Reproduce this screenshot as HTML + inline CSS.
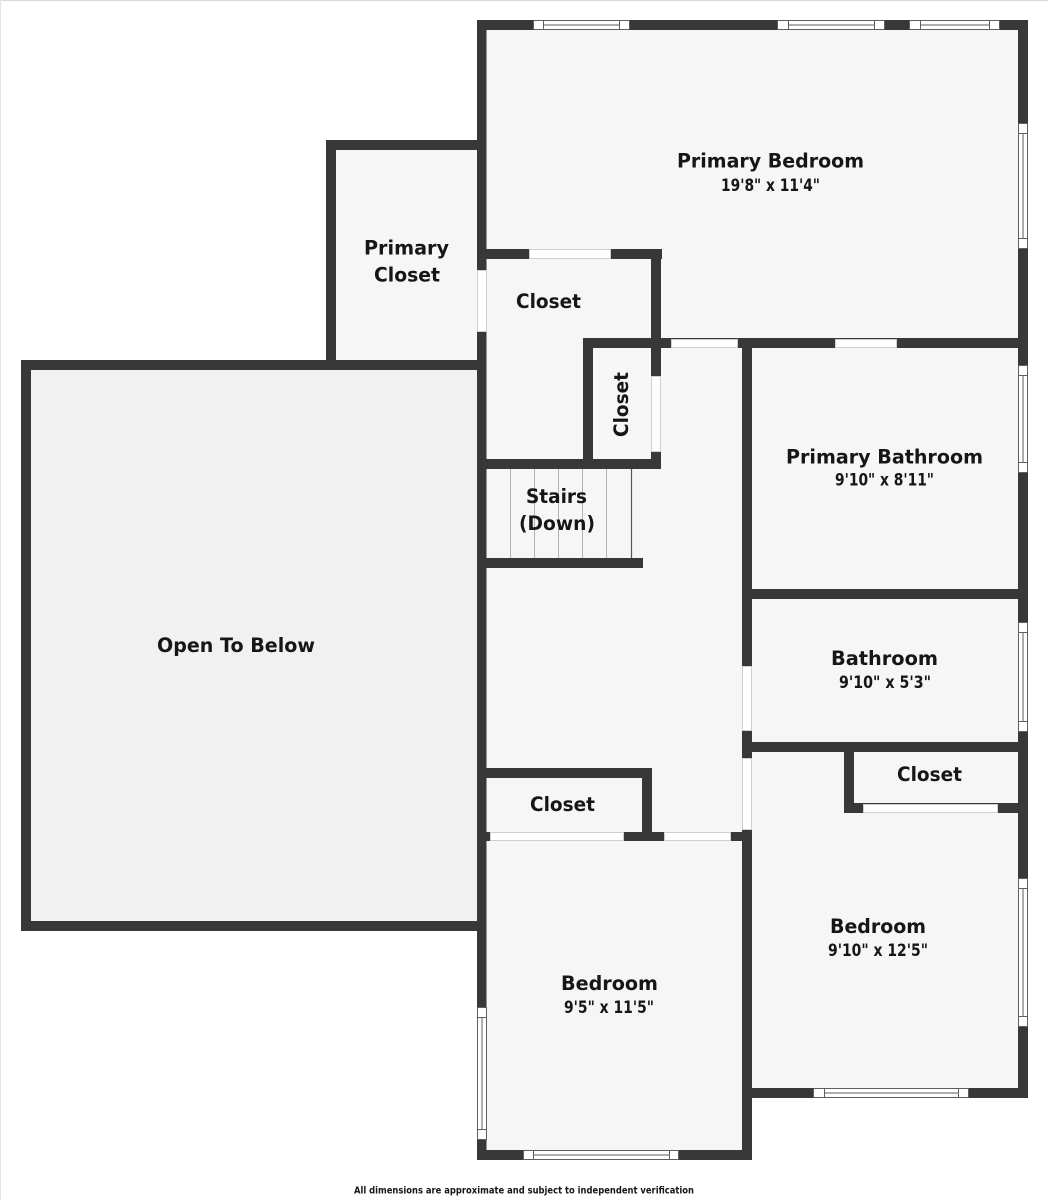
<!DOCTYPE html>
<html><head><meta charset="utf-8"><style>
html,body{margin:0;padding:0;background:#fff}
svg{display:block}
text{font-family:"DejaVu Sans","Liberation Sans",sans-serif;font-weight:bold;fill:#161616}
.n{font-size:19.5px}.d{font-size:16.5px}
</style></head><body>
<svg width="1048" height="1200" viewBox="0 0 1048 1200" xmlns="http://www.w3.org/2000/svg">
<rect width="1048" height="1200" fill="#fff"/>
<rect x="0" y="0" width="1048" height="1" fill="#d8d8d8"/>
<rect x="0" y="0" width="1" height="1200" fill="#e4e4e4"/>
<!-- floors -->
<rect x="26" y="365" width="455" height="561" fill="#f1f1f1"/>
<rect x="331" y="145" width="150" height="220" fill="#f6f6f6"/>
<polygon points="482,25 1023,25 1023,1093 747,1093 747,1155 482,1155" fill="#f6f6f6"/>
<!-- stair lines -->
<g stroke="#b0b0b0" stroke-width="1"><line x1="510.5" y1="469" x2="510.5" y2="558"/><line x1="534.5" y1="469" x2="534.5" y2="558"/><line x1="558.5" y1="469" x2="558.5" y2="558"/><line x1="582.5" y1="469" x2="582.5" y2="558"/><line x1="606.5" y1="469" x2="606.5" y2="558"/></g>
<line x1="631.5" y1="469" x2="631.5" y2="558" stroke="#555" stroke-width="1.2"/>
<!-- walls -->
<g fill="#383838">
<rect x="477" y="20" width="551" height="10"/>
<rect x="1018" y="20" width="10" height="1078"/>
<rect x="477" y="20" width="9.5" height="1140"/>
<rect x="477" y="1150" width="275" height="10"/>
<rect x="742" y="338" width="10" height="822"/>
<rect x="752" y="1088" width="276" height="10"/>
<rect x="326" y="140" width="10" height="230"/>
<rect x="326" y="140" width="151" height="10"/>
<rect x="21" y="360" width="456" height="10"/>
<rect x="21" y="360" width="10" height="571"/>
<rect x="21" y="921" width="456" height="10"/>
<rect x="477" y="249" width="185" height="10"/>
<rect x="651" y="249" width="10" height="220"/>
<rect x="583" y="338" width="445" height="10"/>
<rect x="583" y="338" width="10" height="130"/>
<rect x="477" y="459" width="184" height="10"/>
<rect x="477" y="558" width="166" height="10"/>
<rect x="477" y="768" width="175" height="10"/>
<rect x="642" y="768" width="10" height="70"/>
<rect x="477" y="832" width="275" height="9"/>
<rect x="742" y="589" width="286" height="10"/>
<rect x="742" y="742" width="286" height="10"/>
<rect x="844" y="742" width="10" height="71"/>
<rect x="844" y="803" width="184" height="10"/>
</g>
<!-- plain openings -->
<g fill="#fff" stroke="#cfcfcf" stroke-width="1">
<rect x="529.5" y="249.5" width="81" height="9"/>
<rect x="477.5" y="270.5" width="9" height="61"/>
<rect x="651.5" y="376.5" width="9" height="75"/>
<rect x="671.5" y="339.5" width="66" height="8"/>
<rect x="835.5" y="339.5" width="61" height="8"/>
<rect x="742.5" y="666.5" width="9" height="64"/>
<rect x="742.5" y="758.5" width="9" height="71"/>
<rect x="490.5" y="832.5" width="133" height="8"/>
<rect x="664.5" y="832.5" width="66" height="8"/>
<rect x="863.5" y="804.5" width="134" height="8"/>
</g>
<!-- windows -->
<g fill="#fff" stroke="#5e5e5e" stroke-width="1">
<rect x="533.5" y="20.5" width="96" height="9"/><line x1="543" y1="25" x2="619" y2="25"/><line x1="543.5" y1="20" x2="543.5" y2="30"/><line x1="619.5" y1="20" x2="619.5" y2="30"/>
<rect x="777.5" y="20.5" width="107" height="9"/><line x1="788" y1="25" x2="874" y2="25"/><line x1="788.5" y1="20" x2="788.5" y2="30"/><line x1="874.5" y1="20" x2="874.5" y2="30"/>
<rect x="909.5" y="20.5" width="90" height="9"/><line x1="920" y1="25" x2="989" y2="25"/><line x1="920.5" y1="20" x2="920.5" y2="30"/><line x1="989.5" y1="20" x2="989.5" y2="30"/>
<rect x="523.5" y="1150.5" width="155" height="9"/><line x1="533" y1="1155" x2="669" y2="1155"/><line x1="533.5" y1="1150" x2="533.5" y2="1160"/><line x1="669.5" y1="1150" x2="669.5" y2="1160"/>
<rect x="813.5" y="1088.5" width="155" height="9"/><line x1="824" y1="1093" x2="958" y2="1093"/><line x1="824.5" y1="1088" x2="824.5" y2="1098"/><line x1="958.5" y1="1088" x2="958.5" y2="1098"/>
<rect x="1018.5" y="123.5" width="9" height="125"/><line x1="1023" y1="133" x2="1023" y2="238"/><line x1="1018" y1="133.5" x2="1028" y2="133.5"/><line x1="1018" y1="238.5" x2="1028" y2="238.5"/>
<rect x="1018.5" y="365.5" width="9" height="107"/><line x1="1023" y1="375" x2="1023" y2="462"/><line x1="1018" y1="375.5" x2="1028" y2="375.5"/><line x1="1018" y1="462.5" x2="1028" y2="462.5"/>
<rect x="1018.5" y="622.5" width="9" height="109"/><line x1="1023" y1="632" x2="1023" y2="721"/><line x1="1018" y1="632.5" x2="1028" y2="632.5"/><line x1="1018" y1="721.5" x2="1028" y2="721.5"/>
<rect x="1018.5" y="878.5" width="9" height="148"/><line x1="1023" y1="888" x2="1023" y2="1016"/><line x1="1018" y1="888.5" x2="1028" y2="888.5"/><line x1="1018" y1="1016.5" x2="1028" y2="1016.5"/>
<rect x="477.5" y="1007.5" width="9" height="132"/><line x1="482" y1="1017" x2="482" y2="1129"/><line x1="477" y1="1017.5" x2="487" y2="1017.5"/><line x1="477" y1="1129.5" x2="487" y2="1129.5"/>
</g>
<!-- labels -->
<text class="n" x="677" y="167.5" textLength="187" lengthAdjust="spacingAndGlyphs">Primary Bedroom</text>
<text class="d" x="721" y="191" textLength="99" lengthAdjust="spacingAndGlyphs">19'8" x 11'4"</text>
<text class="n" x="364" y="254.5" textLength="85" lengthAdjust="spacingAndGlyphs">Primary</text>
<text class="n" x="374" y="281.5" textLength="66" lengthAdjust="spacingAndGlyphs">Closet</text>
<text class="n" x="516" y="308" textLength="65" lengthAdjust="spacingAndGlyphs">Closet</text>
<text class="n" transform="translate(628 437) rotate(-90)" textLength="65" lengthAdjust="spacingAndGlyphs">Closet</text>
<text class="n" x="526" y="503" textLength="61" lengthAdjust="spacingAndGlyphs">Stairs</text>
<text class="n" x="519" y="530" textLength="76" lengthAdjust="spacingAndGlyphs">(Down)</text>
<text class="n" x="786" y="463.5" textLength="197" lengthAdjust="spacingAndGlyphs">Primary Bathroom</text>
<text class="d" x="835" y="485.5" textLength="99" lengthAdjust="spacingAndGlyphs">9'10" x 8'11"</text>
<text class="n" x="831" y="665" textLength="107" lengthAdjust="spacingAndGlyphs">Bathroom</text>
<text class="d" x="839" y="688" textLength="92" lengthAdjust="spacingAndGlyphs">9'10" x 5'3"</text>
<text class="n" x="897" y="781" textLength="65" lengthAdjust="spacingAndGlyphs">Closet</text>
<text class="n" x="830" y="933" textLength="96" lengthAdjust="spacingAndGlyphs">Bedroom</text>
<text class="d" x="828" y="956" textLength="100" lengthAdjust="spacingAndGlyphs">9'10" x 12'5"</text>
<text class="n" x="530" y="811" textLength="65" lengthAdjust="spacingAndGlyphs">Closet</text>
<text class="n" x="561" y="990" textLength="97" lengthAdjust="spacingAndGlyphs">Bedroom</text>
<text class="d" x="564" y="1013" textLength="90" lengthAdjust="spacingAndGlyphs">9'5" x 11'5"</text>
<text class="n" x="157" y="652" textLength="158" lengthAdjust="spacingAndGlyphs">Open To Below</text>
<text x="354" y="1193.5" font-size="9.5" textLength="340" lengthAdjust="spacingAndGlyphs">All dimensions are approximate and subject to independent verification</text>
</svg>
</body></html>
